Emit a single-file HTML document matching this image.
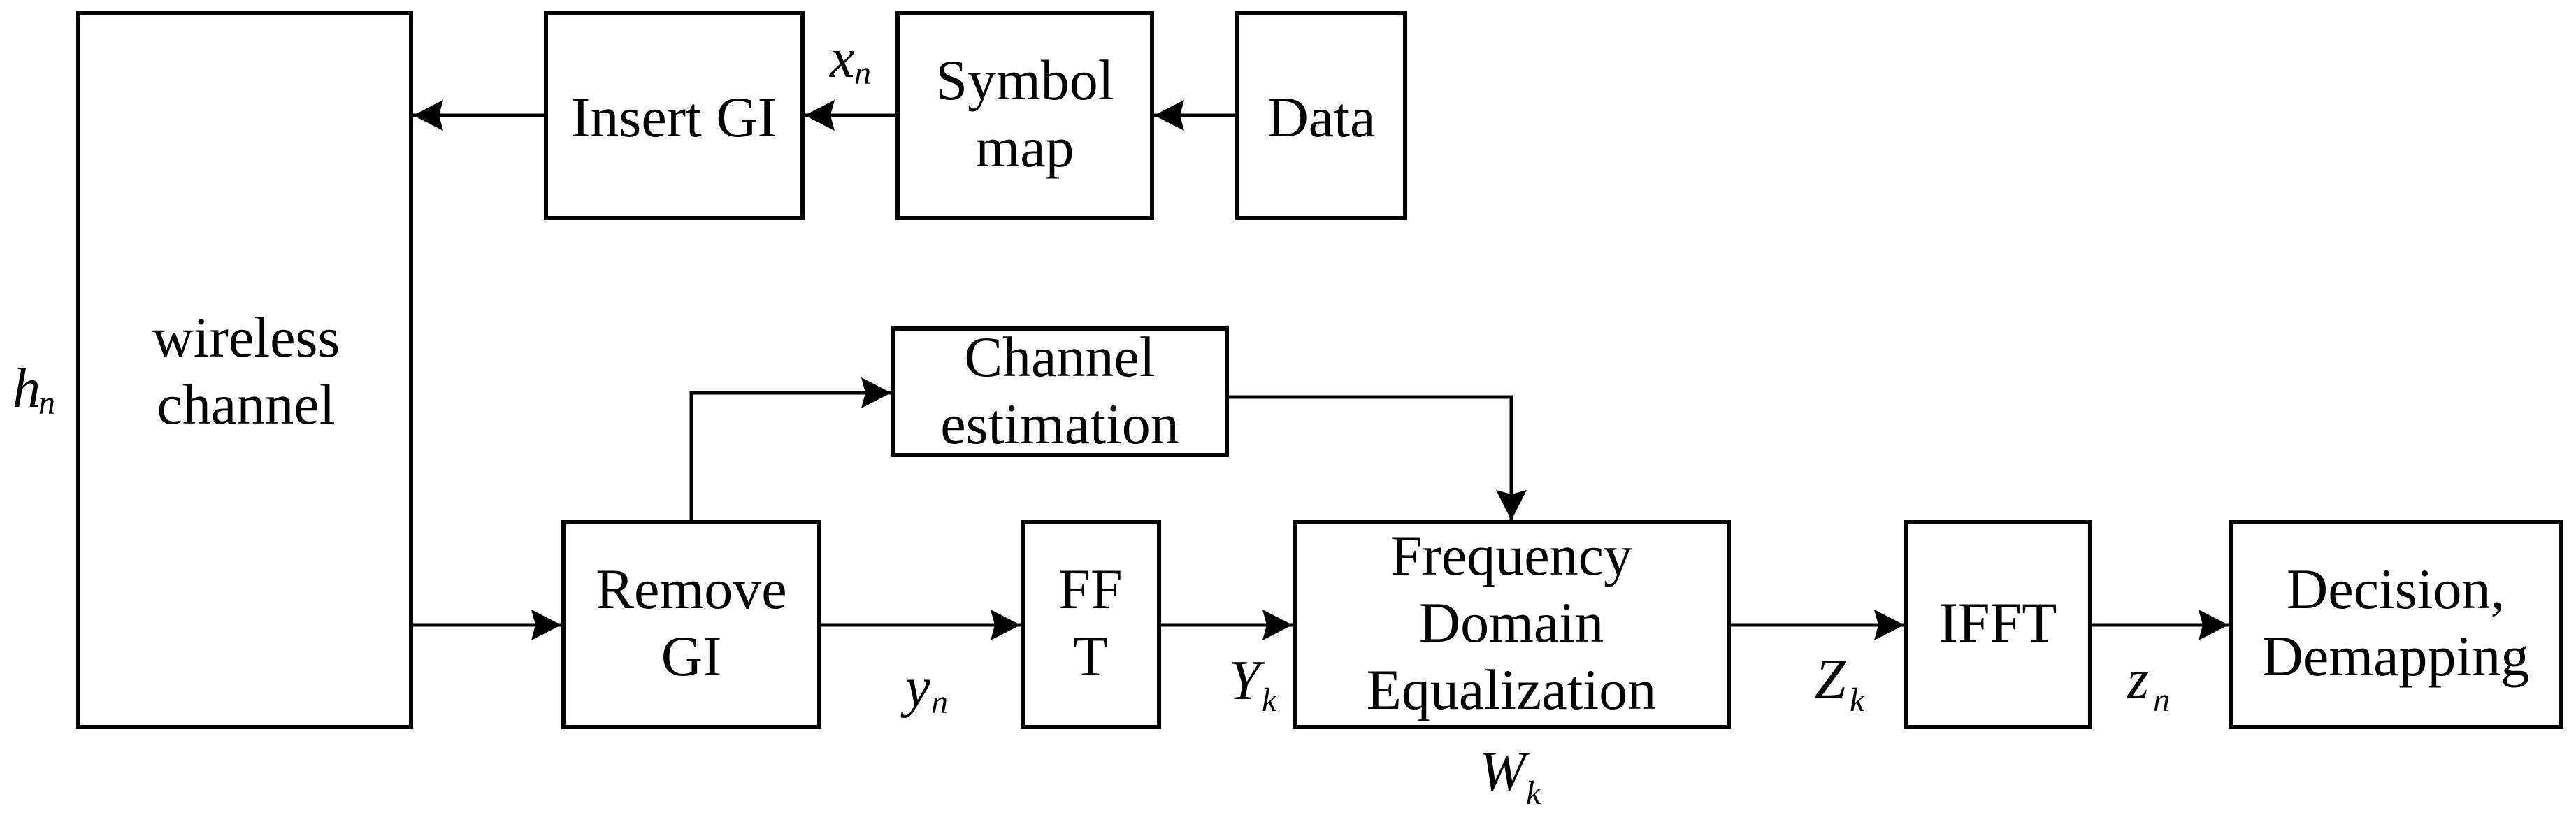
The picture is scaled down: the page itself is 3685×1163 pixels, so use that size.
<!DOCTYPE html>
<html><head><meta charset="utf-8"><style>
html,body{margin:0;padding:0;background:#fff;}
svg{display:block;}
text{font-family:"Liberation Serif",serif;fill:#000;}
.t{font-size:82px;text-anchor:middle;}
.i{font-style:italic;font-size:80px;}
.s{font-style:italic;font-size:48px;}
</style></head><body>
<svg width="3685" height="1163" viewBox="0 0 3685 1163" xmlns="http://www.w3.org/2000/svg">
<defs>
<marker id="a" markerUnits="userSpaceOnUse" markerWidth="46" markerHeight="46" refX="43" refY="22" orient="auto">
<path d="M0,0 L43,22 L0,44 L6,22 Z" fill="#000"/>
</marker>
</defs>
<g fill="none" stroke="#000" stroke-width="6">
<rect x="112" y="19" width="476" height="1021"/>
<rect x="781" y="19" width="367" height="293"/>
<rect x="1284" y="19" width="364" height="293"/>
<rect x="1769" y="19" width="241" height="293"/>
<rect x="1278" y="470" width="477" height="181"/>
<rect x="806" y="747" width="366" height="293"/>
<rect x="1463" y="747" width="195" height="293"/>
<rect x="1852" y="747" width="621" height="293"/>
<rect x="2727" y="747" width="263" height="293"/>
<rect x="3191" y="747" width="473" height="293"/>
</g>
<g fill="none" stroke="#000" stroke-width="5" marker-end="url(#a)">
<line x1="1769" y1="165" x2="1651" y2="165"/>
<line x1="1284" y1="165" x2="1151" y2="165"/>
<line x1="781" y1="165" x2="591" y2="165"/>
<line x1="588" y1="894" x2="803" y2="894"/>
<line x1="1172" y1="894" x2="1460" y2="894"/>
<line x1="1658" y1="894" x2="1849" y2="894"/>
<line x1="2473" y1="894" x2="2724" y2="894"/>
<line x1="2990" y1="894" x2="3188" y2="894"/>
<polyline points="989,747 989,562 1275,562"/>
<polyline points="1755,568 2162,568 2162,744"/>
</g>
<text class="t" x="964" y="195">Insert GI</text>
<text class="t" x="1466" y="142">Symbol</text>
<text class="t" x="1466" y="238">map</text>
<text class="t" x="1890" y="195">Data</text>
<text class="t" x="352" y="510">wireless</text>
<text class="t" x="352" y="606">channel</text>
<text class="t" x="1516" y="538">Channel</text>
<text class="t" x="1516" y="634">estimation</text>
<text class="t" x="989" y="870">Remove</text>
<text class="t" x="989" y="966">GI</text>
<text class="t" x="1560" y="870">FF</text>
<text class="t" x="1560" y="966">T</text>
<text class="t" x="2162" y="822">Frequency</text>
<text class="t" x="2162" y="918">Domain</text>
<text class="t" x="2162" y="1014">Equalization</text>
<text class="t" x="2858" y="918">IFFT</text>
<text class="t" x="3427" y="870">Decision,</text>
<text class="t" x="3427" y="966">Demapping</text>
<text class="i" x="1187" y="110">x</text><text class="s" x="1222" y="120">n</text>
<text class="i" x="18" y="582">h</text><text class="s" x="55" y="592">n</text>
<text class="i" x="1295" y="1010">y</text><text class="s" x="1332" y="1020">n</text>
<text class="i" x="1758" y="1000">Y</text><text class="s" x="1805" y="1017">k</text>
<text class="i" x="2596" y="998">Z</text><text class="s" x="2646" y="1017">k</text>
<text class="i" x="3043" y="998">z</text><text class="s" x="3080" y="1017">n</text>
<text class="i" x="2116" y="1130">W</text><text class="s" x="2183" y="1150">k</text>
</svg>
</body></html>
